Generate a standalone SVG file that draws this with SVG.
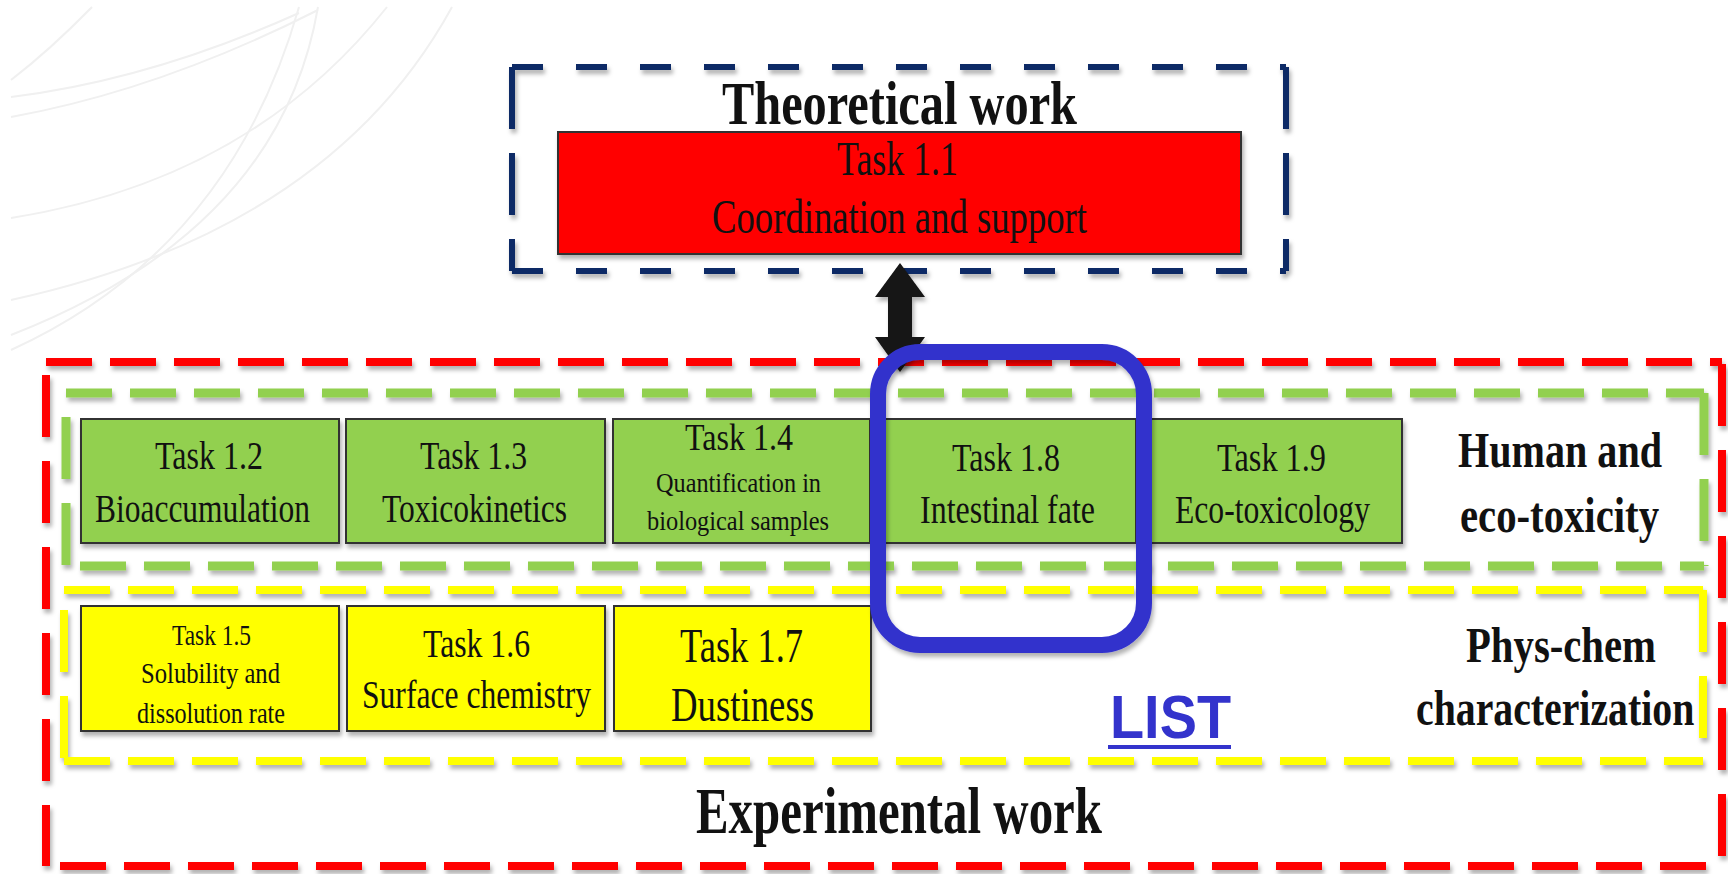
<svg xmlns="http://www.w3.org/2000/svg" width="1728" height="874" viewBox="0 0 1728 874">
<defs>
<filter id="sh" filterUnits="userSpaceOnUse" x="0" y="0" width="1728" height="874">
<feDropShadow dx="2" dy="4" stdDeviation="2" flood-color="#000" flood-opacity="0.3"/>
</filter>
<style>
.bg{fill:none;stroke:#f0f0f0;stroke-width:2}
.navy{fill:none;stroke:#0a2a66;stroke-width:6}
.nh{stroke-dasharray:31 33}
.dv{stroke-dasharray:62 24}
.red{fill:none;stroke:#ff0000;stroke-width:8}
.grn{fill:none;stroke:#92d050;stroke-width:9}
.yel{fill:none;stroke:#ffff00;stroke-width:8}
.dh{stroke-dasharray:46 18}
.box{stroke:#333;stroke-width:2}
.t{font-family:"Liberation Serif","Times New Roman",serif;fill:#111}
.b{font-family:"Liberation Serif","Times New Roman",serif;font-weight:bold;fill:#111}
</style>
</defs>
<rect width="1728" height="874" fill="#fff"/>
<g id="background">
<path class="bg" d="M92,7 Q50,50 11,80"/>
<path class="bg" d="M299,13 Q150,80 11,97"/>
<path class="bg" d="M318,10 Q160,90 11,117"/>
<path class="bg" d="M387,7 Q250,180 11,218"/>
<path class="bg" d="M452,7 Q330,230 11,300"/>
<path class="bg" d="M318,7 Q280,230 11,335"/>
<path class="bg" d="M299,7 Q230,250 11,350"/>
</g>
<g id="theoretical" filter="url(#sh)">
<line class="navy nh" x1="512" y1="67" x2="1286" y2="67"/>
<line class="navy nh" x1="512" y1="271" x2="1286" y2="271"/>
<line class="navy dv" x1="512" y1="67" x2="512" y2="271"/>
<line class="navy dv" x1="1286" y1="67" x2="1286" y2="271"/>
</g>
<text class="b" x="722" y="124" font-size="62" textLength="355" lengthAdjust="spacingAndGlyphs">Theoretical work</text>
<g id="task11">
<rect class="box" x="558" y="132" width="683" height="122" fill="#ff0000" filter="url(#sh)"/>
<text class="t" x="837" y="175" font-size="48" textLength="121" lengthAdjust="spacingAndGlyphs">Task 1.1</text>
<text class="t" x="712" y="233" font-size="48" textLength="375" lengthAdjust="spacingAndGlyphs">Coordination and support</text>
</g>
<g id="experimental" filter="url(#sh)">
<line class="red dh" x1="46" y1="362" x2="1722" y2="362"/>
<line class="red dh" x1="60" y1="866" x2="1722" y2="866"/>
<line class="red dv" x1="46" y1="375" x2="46" y2="866"/>
<line class="red dv" x1="1722" y1="364" x2="1722" y2="866"/>
</g>
<text class="b" x="696" y="833" font-size="65" textLength="406" lengthAdjust="spacingAndGlyphs">Experimental work</text>
<g id="human" filter="url(#sh)">
<line class="grn dh" x1="66" y1="393" x2="1704" y2="393"/>
<line class="grn dh" x1="80" y1="566" x2="1704" y2="566"/>
<line class="grn dv" x1="66" y1="417" x2="66" y2="566"/>
<line class="grn dv" x1="1704" y1="393" x2="1704" y2="566"/>
</g>
<g id="physchem" filter="url(#sh)">
<line class="yel dh" x1="64" y1="590" x2="1703" y2="590"/>
<line class="yel dh" x1="64" y1="761" x2="1703" y2="761"/>
<line class="yel dv" x1="64" y1="610" x2="64" y2="761"/>
<line class="yel dv" x1="1703" y1="590" x2="1703" y2="761"/>
</g>
<text class="b" x="1458" y="467" font-size="51" textLength="204" lengthAdjust="spacingAndGlyphs">Human and</text>
<text class="b" x="1460" y="532" font-size="51" textLength="199" lengthAdjust="spacingAndGlyphs">eco-toxicity</text>
<text class="b" x="1466" y="662" font-size="51" textLength="190" lengthAdjust="spacingAndGlyphs">Phys-chem</text>
<text class="b" transform="translate(1416,725) scale(0.78,1)" x="0" y="0" font-size="51">characterization</text>
<g id="task12">
<rect class="box" x="81" y="419" width="258" height="124" fill="#92d050" filter="url(#sh)"/>
<text class="t" x="155" y="469" font-size="39" textLength="108" lengthAdjust="spacingAndGlyphs">Task 1.2</text>
<text class="t" x="95" y="522" font-size="39" textLength="215" lengthAdjust="spacingAndGlyphs">Bioaccumulation</text>
</g>
<g id="task13">
<rect class="box" x="346" y="419" width="259" height="124" fill="#92d050" filter="url(#sh)"/>
<text class="t" x="420" y="469" font-size="39" textLength="107" lengthAdjust="spacingAndGlyphs">Task 1.3</text>
<text class="t" x="382" y="522" font-size="39" textLength="185" lengthAdjust="spacingAndGlyphs">Toxicokinetics</text>
</g>
<g id="task14">
<rect class="box" x="613" y="419" width="257" height="124" fill="#92d050" filter="url(#sh)"/>
<text class="t" x="685" y="450" font-size="38" textLength="108" lengthAdjust="spacingAndGlyphs">Task 1.4</text>
<text class="t" x="656" y="492" font-size="28" textLength="165" lengthAdjust="spacingAndGlyphs">Quantification in</text>
<text class="t" x="647" y="530" font-size="28" textLength="182" lengthAdjust="spacingAndGlyphs">biological samples</text>
</g>
<g id="task18">
<rect class="box" x="878" y="419" width="258" height="124" fill="#92d050" filter="url(#sh)"/>
<text class="t" x="952" y="471" font-size="39" textLength="108" lengthAdjust="spacingAndGlyphs">Task 1.8</text>
<text class="t" x="920" y="523" font-size="39" textLength="175" lengthAdjust="spacingAndGlyphs">Intestinal fate</text>
</g>
<g id="task19">
<rect class="box" x="1144" y="419" width="258" height="124" fill="#92d050" filter="url(#sh)"/>
<text class="t" x="1217" y="471" font-size="39" textLength="109" lengthAdjust="spacingAndGlyphs">Task 1.9</text>
<text class="t" x="1175" y="523" font-size="39" textLength="195" lengthAdjust="spacingAndGlyphs">Eco-toxicology</text>
</g>
<g id="task15">
<rect class="box" x="81" y="606" width="258" height="125" fill="#ffff00" filter="url(#sh)"/>
<text class="t" x="172" y="645" font-size="30" textLength="79" lengthAdjust="spacingAndGlyphs">Task 1.5</text>
<text class="t" x="141" y="683" font-size="30" textLength="139" lengthAdjust="spacingAndGlyphs">Solubility and</text>
<text class="t" x="137" y="723" font-size="30" textLength="148" lengthAdjust="spacingAndGlyphs">dissolution rate</text>
</g>
<g id="task16">
<rect class="box" x="347" y="606" width="258" height="125" fill="#ffff00" filter="url(#sh)"/>
<text class="t" x="423" y="657" font-size="41" textLength="107" lengthAdjust="spacingAndGlyphs">Task 1.6</text>
<text class="t" x="362" y="708" font-size="41" textLength="229" lengthAdjust="spacingAndGlyphs">Surface chemistry</text>
</g>
<g id="task17">
<rect class="box" x="614" y="606" width="257" height="125" fill="#ffff00" filter="url(#sh)"/>
<text class="t" x="680" y="662" font-size="48" textLength="123" lengthAdjust="spacingAndGlyphs">Task 1.7</text>
<text class="t" x="671" y="721" font-size="48" textLength="143" lengthAdjust="spacingAndGlyphs">Dustiness</text>
</g>
<g id="connectors">
<polygon points="900,263 925,297 912,297 912,337 925,337 900,372 875,337 888,337 888,297 875,297" fill="#141414" filter="url(#sh)"/>
</g>
<g id="highlight">
<rect x="878" y="352" width="266" height="293" rx="42" fill="none" stroke="#3333cc" stroke-width="16" filter="url(#sh)"/>
</g>
<g id="list">
<text x="1110" y="738" font-family="'Liberation Sans',Arial,sans-serif" font-weight="bold" font-size="62" fill="#3333cc" textLength="121" lengthAdjust="spacingAndGlyphs">LIST</text>
<rect x="1108" y="745" width="123" height="4" fill="#3333cc"/>
</g>
</svg>
